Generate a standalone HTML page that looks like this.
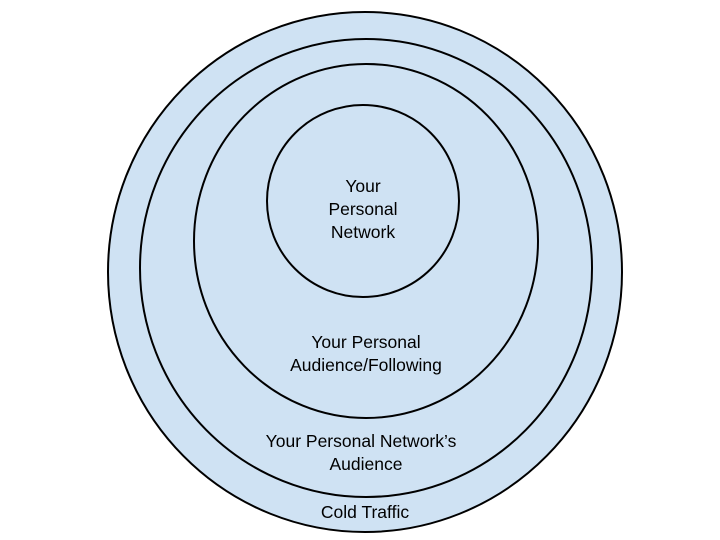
<!DOCTYPE html>
<html><head><style>
html,body{margin:0;padding:0;background:#fff;width:720px;height:540px;overflow:hidden}
</style></head><body>
<svg width="720" height="540" viewBox="0 0 720 540" xmlns="http://www.w3.org/2000/svg" font-family="Liberation Sans, Arial, sans-serif" font-size="17.5" fill="#000">
<ellipse cx="365" cy="272" rx="257" ry="260" fill="#cfe2f3" stroke="#000" stroke-width="2"/>
<ellipse cx="366" cy="268" rx="226" ry="229" fill="#cfe2f3" stroke="#000" stroke-width="2"/>
<ellipse cx="366" cy="241" rx="172" ry="177" fill="#cfe2f3" stroke="#000" stroke-width="2"/>
<ellipse cx="363" cy="201" rx="96" ry="96" fill="#cfe2f3" stroke="#000" stroke-width="2"/>
<g text-anchor="middle">
<text x="363" y="192">Your</text>
<text x="363" y="215">Personal</text>
<text x="363" y="238">Network</text>
<text x="366" y="348">Your Personal</text>
<text x="366" y="371">Audience/Following</text>
<text x="361" y="447">Your Personal Network’s</text>
<text x="366" y="470">Audience</text>
<text x="365" y="518">Cold Traffic</text>
</g>
</svg>
</body></html>
